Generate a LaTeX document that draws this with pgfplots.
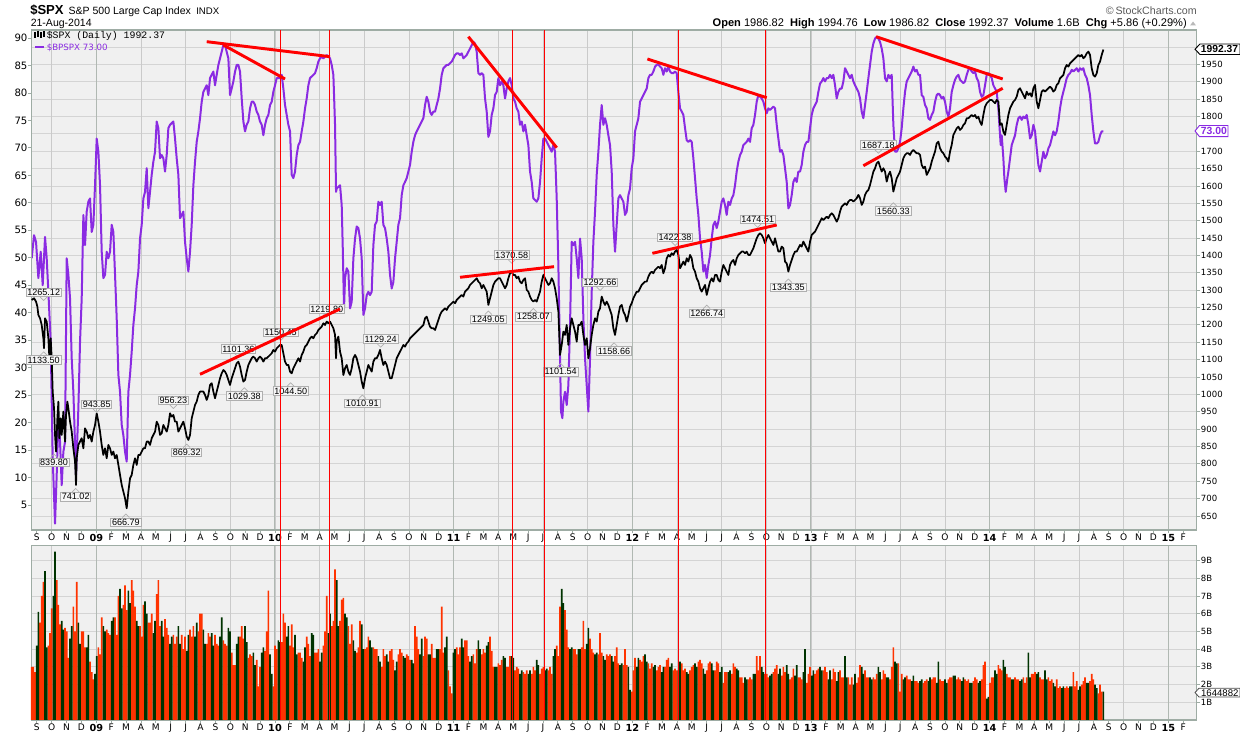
\documentclass[border=0pt]{standalone}
\usepackage{fontspec}
\setmainfont{DejaVu Sans}
\newfontfamily\arialf{Liberation Sans}
\newfontfamily\monof{Liberation Mono}
\usepackage{pgfplots}
\usepackage{pgfplotstable}
\pgfplotsset{compat=1.18}

\definecolor{bgc}{RGB}{240,240,240}
\definecolor{framec}{RGB}{158,172,164}
\definecolor{hgridc}{RGB}{212,212,212}
\definecolor{qgridc}{RGB}{202,202,202}
\definecolor{ygridc}{RGB}{176,184,178}
\definecolor{bpc}{RGB}{138,43,226}
\definecolor{volred}{RGB}{255,51,0}
\definecolor{volgreen}{RGB}{0,51,0}
\definecolor{lblborder}{RGB}{175,175,175}
\definecolor{lblfill}{RGB}{246,246,246}

\newcommand{\yr}[1]{{\fontsize{7.3}{8}\selectfont\bfseries #1}}

% ---------------- BPSPX (bullish percent), x = time index k ----------------
\pgfplotstableread{
k v
0 49.9
1.4 54.1
2.6 52.9
4 46.3
5.4 51.1
6.6 45.0
8 53.8
9 49.9
10 43.8
11.4 34.7
12.6 13.5
14 1.6
15 10.5
16 20.8
17 16.5
18 8.6
19 14.7
20 16.5
21 49.9
22 46.9
23 42.6
24 31.7
25 25.6
26.6 10.5
28 22.6
29 34.7
30 42.6
31 57.8
32 52.3
33 58.4
34 60.2
35 60.8
36 54.7
37 56.0
38 63.2
39 71.7
40 69.3
41 63.2
42 51.1
43 46.3
44 46.9
45 51.1
46 49.9
47 51.1
48 56.0
49 54.7
50 46.9
51 39.0
52 28.7
53 25.6
54 19.6
55 17.7
56 14.7
57 12.9
58 25.6
59 28.7
60 32.9
61 37.8
62 40.8
63 45.0
64 47.5
65 53.5
66 56.0
67 60.8
68 62.0
69 66.3
70 59.0
71 62.0
72 65.1
73 67.5
74 69.3
75 74.8
76 73.6
77 68.1
78 68.7
79 68.1
80 65.7
81 68.7
82 73.6
83 74.2
85 74.8
86 71.7
87 68.1
88 65.1
89 57.2
90 57.8
91 58.4
92 52.9
93 49.9
94 47.5
95 51.1
96 56.0
97 63.2
98 67.5
99 71.1
100 73.0
101 75.4
102 78.4
103 80.2
104 80.8
105 81.4
106 79.6
107 82.7
108 83.3
109 83.9
110 81.4
111 83.3
112 85.1
113 86.3
114 87.5
115 88.7
116 88.7
117 87.5
118 86.3
119 79.6
120 80.8
121 82.1
122 83.9
123 85.1
124 85.1
125 83.9
126 79.0
127 74.8
128 73.0
129 74.2
130 74.8
131 77.2
132 78.4
133 78.4
134 77.8
135 76.6
136 76.0
137 74.8
138 74.2
139 72.3
140 74.2
141 75.4
142 76.0
143 77.8
144 78.4
145 80.2
146 81.4
147 82.7
148 82.7
149 82.7
150 83.3
151 80.8
152 77.8
153 76.0
154 74.2
155 73.0
156 65.1
157 64.5
158 65.7
159 68.7
160 70.5
161 71.1
162 73.0
163 74.8
164 77.2
165 79.0
166 81.4
167 82.7
168 83.0
169 83.3
170 83.6
171 84.5
172 85.7
173 86.3
174 86.6
175 86.3
176 86.6
177 86.9
178 86.6
179 86.3
180 85.1
181 83.3
182 74.2
182.6 62.0
183 62.6
185 63.2
186 59.6
186.6 52.3
187.4 40.8
188 46.3
189 48.1
190 47.5
191 40.8
192 42.0
193 49.9
194 53.5
195 55.7
196 55.4
197 53.5
198 49.9
199 39.6
200 40.8
201 43.2
202 43.8
203 43.2
204 43.8
205 52.3
206 56.0
207 56.6
208 60.2
209 59.6
210 60.2
211 56.0
212 55.4
213 53.5
214 51.1
215 46.9
216 44.4
217 45.6
218 49.9
219 52.9
220 56.0
221 57.2
222 61.4
223 63.2
224 63.8
225 64.5
226 65.7
227 66.9
228 69.3
229 71.1
230 72.3
231 73.0
232 73.6
233 74.2
234 74.8
235 75.4
236 77.8
237 79.3
238 78.4
239 76.6
240 76.0
241 76.6
242 76.6
243 77.8
244 79.0
245 80.8
246 83.3
247 84.5
248 84.8
249 85.1
250 85.1
251 85.4
252 85.7
253 86.3
254 86.9
255 87.2
256 87.2
257 86.9
258 87.2
259 86.3
260 86.6
261 86.9
262 87.5
263 88.1
264 88.7
265 89.3
266 89.0
267 87.5
268 83.6
269 83.3
270 83.6
271 83.3
272 79.0
273 76.6
274 72.0
275 73.0
276 76.0
277 77.2
278 79.6
279 80.2
280 82.7
281 81.4
282 82.1
283 81.4
284 79.0
285 80.8
286 82.1
287 82.7
288 81.4
289 79.0
290 78.4
291 77.2
292 76.6
293 74.2
294 74.8
295 73.0
296 74.2
297 72.3
298 70.5
299 65.7
300 63.8
301 60.8
302 60.5
303 60.2
304 60.8
305 63.8
306 68.1
307 71.7
308 71.7
309 71.1
310 70.5
311 69.9
312 69.3
313 70.5
314 69.3
315 60.8
316 48.7
317 31.7
317.6 22.0
318.4 20.8
319 23.8
320 25.6
321 23.2
322 26.8
323 37.8
324 52.9
325 52.3
326 52.9
327 49.9
328 46.3
329 53.5
330 49.9
331 39.0
332 31.7
333 26.8
334 22.0
335 31.7
336 43.8
337 52.9
338 58.4
339 65.1
340 69.3
341 74.2
342 77.8
343 74.2
344 75.4
345 74.2
346 72.3
347 70.5
348 65.7
349 56.0
350 51.1
351 56.0
352 60.8
353 61.4
354 60.8
355 60.2
356 57.8
357 58.4
358 61.4
359 62.6
360 66.3
361 68.1
362 73.0
363 74.2
364 75.4
365 78.4
366 79.0
367 79.6
368 80.2
369 80.8
370 82.7
371 83.3
372 83.3
373 83.9
374 84.8
375 85.1
376 85.2
377 84.8
378 84.5
379 83.3
380 84.5
381 83.9
382 84.8
383 83.9
384 83.6
385 83.6
386 83.9
387 83.6
388 80.2
389 77.2
390 76.6
391 76.0
392 73.6
393 71.4
394 71.1
395 71.4
396 71.1
397 68.1
398 64.5
399 60.8
400 57.8
401 53.5
402 51.1
403 47.5
404 48.7
405 46.3
406 48.7
407 50.5
408 53.5
409 56.0
410 56.6
411 55.4
412 56.6
413 58.4
414 60.2
415 60.8
416 59.6
417 57.8
418 60.2
419 59.6
420 60.8
421 61.4
422 63.2
423 65.7
424 67.5
425 68.7
426 69.3
427 70.5
428 70.8
429 71.1
430 71.7
431 71.1
432 73.6
433 74.2
434 76.0
435 78.4
436 79.6
437 79.3
438 79.0
439 78.4
440 77.2
441 76.3
442 77.2
443 76.9
444 77.2
445 77.5
446 77.2
447 74.2
448 71.7
449 69.3
450 69.6
451 68.7
452 66.3
453 63.8
454 59.0
455 59.6
456 61.4
457 63.8
458 64.5
459 63.8
460 65.7
461 65.7
462 66.9
463 69.3
464 70.5
465 71.1
466 71.1
467 73.6
468 76.0
469 77.2
470 77.8
471 78.4
472 80.2
473 81.7
474 82.1
475 82.7
476 82.1
477 82.7
478 82.7
479 83.3
480 82.7
481 83.3
482 81.4
483 79.0
484 80.2
485 80.8
486 80.8
487 82.1
488 84.5
489 83.9
490 83.3
491 82.7
492 83.3
493 82.1
494 81.4
495 80.8
496 80.2
497 79.0
498 76.6
499 75.4
500 77.8
501 80.2
502 82.7
503 85.1
504 87.5
505 89.0
506 89.9
507 90.2
508 89.9
509 89.3
510 88.1
511 86.3
512 82.7
513 82.1
514 83.3
515 82.7
516 83.3
517 74.2
518 69.3
519 69.3
520 69.9
521 71.1
522 73.6
523 77.2
524 80.2
525 82.1
526 82.7
527 83.3
528 83.9
529 84.8
530 83.9
531 84.2
532 83.3
533 83.3
534 79.6
535 79.3
536 77.8
537 77.2
538 75.4
539 75.1
540 76.0
541 76.6
542 78.4
543 79.6
544 79.9
545 79.6
546 79.0
547 79.3
548 78.4
549 76.6
550 75.7
551 77.2
552 80.2
553 81.4
554 82.4
555 83.0
556 83.3
557 82.4
558 82.1
559 81.8
560 82.1
561 83.3
562 84.2
563 84.5
564 83.9
565 83.6
566 83.9
567 82.7
568 82.1
569 80.2
570 79.3
571 79.6
572 81.4
573 83.3
574 83.6
575 83.3
576 82.7
577 81.4
578 80.8
579 80.2
580 77.2
580.6 74.2
581.4 70.5
582 72.3
583 68.1
583.6 64.5
584.4 62.0
585.4 64.5
586 65.7
587 68.1
588 70.5
589 71.4
590 72.3
591 74.2
592 75.4
593 75.7
594 75.1
595 75.7
596 75.4
597 76.0
598 74.2
599 71.7
600 72.3
601 74.2
602 73.0
603 69.9
604 66.9
605 65.7
606 67.5
607 69.3
608 68.1
609 68.7
610 69.9
611 70.5
612 71.7
613 73.0
614 72.3
615 73.0
616 74.8
617 77.2
618 79.0
619 80.2
620 81.4
621 82.7
622 83.3
623 83.6
624 84.2
625 83.9
626 84.2
627 84.5
628 83.9
629 84.5
630 84.2
631 84.5
632 83.3
633 82.7
634 81.4
635 79.6
636 76.0
637 73.0
638 70.8
639 70.8
640 71.1
641 72.3
642 73.0
643 73.0
}\bpdata

% ---------------- $SPX close ----------------
\pgfplotstableread{
k v
0 1271.8
1.4 1276.6
2.6 1267.0
3.4 1252.6
4 1228.6
5 1219.0
6 1199.8
7 1161.5
7.4 1132.6
8 1219.0
9 1209.4
10 1161.5
10.6 1104.0
11.4 1161.5
12 1104.0
12.6 1008.0
13.4 960.0
14 883.3
14.6 835.3
15.4 931.2
16 979.2
16.6 873.7
17.4 931.2
18 883.3
19 950.4
20 864.1
20.6 940.8
21.4 979.2
22 960.0
23 921.6
24 892.8
25 844.9
26 806.5
26.6 739.4
27 816.1
28 854.5
29 864.1
30 873.7
31 844.9
32 902.4
33 892.8
34 873.7
35 883.3
36 864.1
37 892.8
38 912.0
39 945.6
40 921.6
41 892.8
42 854.5
43 825.7
44 844.9
45 816.1
46 854.5
47 844.9
48 825.7
49 835.3
50 816.1
51 825.7
52 797.0
53 768.1
54 739.4
55 720.2
56 701.0
57 672.2
58 720.2
59 758.6
60 768.1
61 797.0
62 816.1
63 797.0
64 825.7
65 825.7
66 835.3
67 844.9
68 844.9
69 864.1
70 864.1
71 854.5
72 873.7
73 883.3
74 892.8
75 921.6
76 912.0
77 883.3
78 888.1
79 912.0
80 902.4
81 892.8
82 912.0
83 945.6
84 936.0
85 940.8
86 921.6
87 921.6
88 892.8
89 902.4
90 912.0
91 921.6
92 902.4
93 878.5
94 868.9
95 883.3
96 931.2
97 950.4
98 969.6
99 979.2
100 998.4
101 1008.0
102 1008.0
103 1008.0
104 998.4
105 984.0
106 998.4
107 1027.1
108 1032.1
109 1008.0
110 988.8
111 1008.0
112 1027.1
113 1046.4
114 1060.7
115 1070.3
116 1065.5
117 1055.9
118 1041.6
119 1027.1
120 1046.4
121 1060.7
122 1075.1
123 1089.5
124 1094.3
125 1079.9
126 1055.9
127 1036.8
128 1041.6
129 1065.5
130 1084.7
131 1094.3
132 1104.0
133 1108.7
134 1104.0
135 1094.3
136 1104.0
137 1108.7
138 1104.0
139 1094.3
140 1104.0
141 1104.0
142 1108.7
143 1113.5
144 1118.3
145 1127.9
146 1123.1
147 1132.6
148 1137.4
149 1142.2
150 1142.2
151 1118.3
152 1094.3
153 1084.7
154 1084.7
155 1065.5
156 1060.7
157 1075.1
158 1084.7
159 1094.3
160 1104.0
161 1094.3
162 1113.5
163 1123.1
164 1137.4
165 1142.2
166 1151.8
167 1161.5
168 1166.3
169 1161.5
170 1171.0
171 1175.8
172 1185.4
173 1190.2
174 1195.0
175 1204.6
176 1199.8
177 1209.4
178 1204.6
179 1209.4
180 1199.8
181 1190.2
182 1171.0
182.6 1104.0
183 1151.8
184 1166.3
185 1123.1
186 1104.0
187 1055.9
188 1075.1
189 1084.7
190 1065.5
191 1055.9
192 1075.1
193 1104.0
194 1113.5
195 1104.0
196 1084.7
197 1065.5
198 1036.8
199 1017.6
200 1046.4
201 1065.5
202 1084.7
203 1075.1
204 1065.5
205 1094.3
206 1104.0
207 1104.0
208 1113.5
209 1127.9
210 1104.0
211 1084.7
212 1094.3
213 1084.7
214 1065.5
215 1046.4
216 1046.4
217 1065.5
218 1084.7
219 1104.0
220 1113.5
221 1123.1
222 1132.6
223 1142.2
224 1137.4
225 1147.0
226 1151.8
227 1161.5
228 1166.3
229 1171.0
230 1175.8
231 1180.6
232 1185.4
233 1190.2
234 1195.0
235 1199.8
236 1219.0
237 1223.8
238 1209.4
239 1195.0
240 1190.2
241 1190.2
242 1185.4
243 1199.8
244 1214.2
245 1228.6
246 1238.2
247 1243.0
248 1247.8
249 1243.0
250 1252.6
251 1257.4
252 1262.2
253 1267.0
254 1262.2
255 1271.8
256 1276.6
257 1281.4
258 1286.2
259 1281.4
260 1295.7
261 1300.5
262 1305.3
263 1314.9
264 1319.7
265 1324.5
266 1329.3
267 1334.1
268 1324.5
269 1319.7
270 1305.3
271 1314.9
272 1305.3
273 1295.7
274 1257.4
275 1276.6
276 1295.7
277 1314.9
278 1324.5
279 1329.3
280 1334.1
281 1334.1
282 1324.5
283 1314.9
284 1305.3
285 1314.9
286 1334.1
287 1348.5
288 1353.3
289 1343.7
290 1343.7
291 1334.1
292 1338.9
293 1324.5
294 1319.7
295 1329.3
296 1334.1
297 1300.5
298 1295.7
299 1281.4
300 1271.8
301 1267.0
302 1271.8
303 1267.0
304 1281.4
305 1295.7
306 1324.5
307 1343.7
308 1334.1
309 1324.5
310 1314.9
311 1319.7
312 1334.1
313 1324.5
314 1305.3
315 1276.6
316 1238.2
317 1113.5
318 1142.2
319 1180.6
320 1171.0
321 1199.8
322 1142.2
323 1190.2
324 1219.0
325 1199.8
326 1180.6
327 1151.8
328 1199.8
329 1199.8
330 1209.4
331 1171.0
332 1142.2
333 1161.5
334 1104.0
335 1132.6
336 1171.0
337 1199.8
338 1219.0
339 1209.4
340 1238.2
341 1247.8
342 1281.4
343 1267.0
344 1257.4
345 1267.0
346 1257.4
347 1243.0
348 1228.6
349 1190.2
350 1171.0
351 1199.8
352 1228.6
353 1252.6
354 1257.4
355 1238.2
356 1228.6
357 1209.4
358 1228.6
359 1252.6
360 1262.2
361 1276.6
362 1286.2
363 1295.7
364 1295.7
365 1305.3
366 1314.9
367 1319.7
368 1324.5
369 1324.5
370 1338.9
371 1348.5
372 1353.3
373 1348.5
374 1358.1
375 1362.9
376 1367.7
377 1362.9
378 1372.5
379 1348.5
380 1362.9
381 1391.7
382 1401.3
383 1396.5
384 1406.1
385 1401.3
386 1410.9
387 1415.7
388 1401.3
389 1362.9
390 1372.5
391 1382.1
392 1372.5
393 1391.7
394 1382.1
395 1401.3
396 1391.7
397 1362.9
398 1353.3
399 1334.1
400 1324.5
401 1305.3
402 1295.7
403 1305.3
404 1314.9
405 1286.2
406 1305.3
407 1324.5
408 1334.1
409 1324.5
410 1343.7
411 1343.7
412 1329.3
413 1324.5
414 1353.3
415 1372.5
416 1362.9
417 1353.3
418 1343.7
419 1372.5
420 1382.1
421 1386.9
422 1372.5
423 1391.7
424 1401.3
425 1406.1
426 1410.9
427 1410.9
428 1406.1
429 1410.9
430 1401.3
431 1401.3
432 1410.9
433 1420.5
434 1434.9
435 1449.2
436 1458.8
437 1463.6
438 1458.8
439 1449.2
440 1434.9
441 1449.2
442 1458.8
443 1449.2
444 1439.7
445 1430.1
446 1449.2
447 1430.1
448 1410.9
449 1410.9
450 1425.3
451 1420.5
452 1382.1
453 1377.3
454 1353.3
455 1372.5
456 1386.9
457 1401.3
458 1410.9
459 1410.9
460 1420.5
461 1430.1
462 1425.3
463 1439.7
464 1430.1
465 1420.5
466 1410.9
467 1439.7
468 1458.8
469 1463.6
470 1468.4
471 1478.0
472 1487.5
473 1497.1
474 1506.8
475 1502.0
476 1506.8
477 1511.6
478 1506.8
479 1516.2
480 1521.2
481 1516.2
482 1506.8
483 1497.1
484 1506.8
485 1526.0
486 1540.4
487 1545.2
488 1550.0
489 1545.2
490 1554.8
491 1559.6
492 1559.6
493 1554.8
494 1559.6
495 1564.4
496 1574.0
497 1564.4
498 1545.2
499 1554.8
500 1574.0
501 1583.6
502 1588.4
503 1602.8
504 1621.9
505 1641.1
506 1650.7
507 1665.1
508 1669.9
509 1655.5
510 1641.1
511 1650.7
512 1641.1
513 1612.3
514 1631.5
515 1641.1
516 1621.9
517 1583.6
518 1602.8
519 1621.9
520 1631.5
521 1641.1
522 1660.3
523 1679.5
524 1689.1
525 1693.9
526 1693.9
527 1689.1
528 1698.7
529 1703.5
530 1698.7
531 1693.9
532 1693.9
533 1689.1
534 1660.3
535 1650.7
536 1655.5
537 1631.5
538 1641.1
539 1650.7
540 1669.9
541 1684.3
542 1698.7
543 1722.6
544 1727.4
545 1708.3
546 1698.7
547 1693.9
548 1684.3
549 1679.5
550 1669.9
551 1698.7
552 1717.8
553 1746.6
554 1756.2
555 1765.8
556 1770.6
557 1761.0
558 1765.8
559 1775.4
560 1780.2
561 1794.6
562 1794.6
563 1799.4
564 1804.2
565 1799.4
566 1804.2
567 1794.6
568 1799.4
569 1784.2
570 1775.4
571 1804.2
572 1828.2
573 1837.8
574 1842.6
575 1847.4
576 1847.4
577 1842.6
578 1837.8
579 1847.4
580 1842.6
581 1775.4
582 1780.2
583 1756.2
584 1746.6
585 1775.4
586 1804.2
587 1823.4
588 1833.0
589 1842.6
590 1847.4
591 1857.0
592 1876.1
593 1880.9
594 1871.3
595 1861.7
596 1852.1
597 1871.3
598 1861.7
599 1866.5
600 1857.0
601 1880.9
602 1890.5
603 1842.6
604 1823.4
605 1847.4
606 1871.3
607 1876.1
608 1871.3
609 1876.1
610 1880.9
611 1885.7
612 1880.9
613 1871.3
614 1876.1
615 1890.5
616 1895.3
617 1909.7
618 1914.5
619 1919.3
620 1938.5
621 1948.1
622 1943.3
623 1952.9
624 1957.7
625 1962.5
626 1967.3
627 1972.1
628 1976.9
629 1972.1
630 1976.9
631 1967.3
632 1972.1
633 1981.7
634 1986.5
635 1976.9
636 1938.5
637 1919.3
638 1914.5
639 1924.1
640 1948.1
641 1957.7
642 1976.9
643 1992.4
}\spxdata

% ---------------- volume (billions) ----------------
\pgfplotstableread{
k v
0 3.0
1 3.0
2 2.7
3 4.2
4 6.1
5 5.5
6 7.0
7 7.8
8 8.4
9 4.1
10 4.2
11 4.9
12 6.3
13 7.0
14 9.5
15 7.9
16 6.5
17 5.4
18 5.6
19 5.1
20 5.2
21 5.0
22 3.5
23 4.6
24 5.3
25 6.4
26 5.0
27 7.8
28 5.5
29 4.3
30 5.0
31 5.0
32 4.1
33 4.1
34 4.8
35 3.3
36 2.7
37 2.3
38 2.6
39 3.6
40 4.1
41 3.7
42 5.8
43 5.3
44 5.0
45 5.1
46 4.9
47 4.8
48 5.6
49 5.8
50 5.8
51 4.8
52 7.0
53 7.4
54 6.3
55 6.5
56 7.6
57 6.2
58 7.3
59 6.6
60 7.9
61 7.3
62 6.4
63 5.6
64 5.3
65 5.3
66 4.7
67 6.5
68 6.7
69 6.0
70 5.5
71 5.5
72 6.0
73 4.9
74 5.6
75 7.1
76 7.9
77 5.3
78 5.6
79 4.7
80 5.7
81 5.2
82 4.8
83 4.3
84 4.7
85 4.8
86 4.3
87 4.7
88 5.3
89 4.3
90 4.8
91 4.0
92 4.7
93 3.9
94 4.8
95 5.1
96 4.7
97 5.3
98 4.7
99 5.5
100 5.0
101 6.0
102 6.0
103 5.1
104 4.3
105 4.3
106 4.9
107 4.7
108 4.9
109 4.2
110 4.8
111 4.3
112 4.2
113 4.7
114 5.8
115 4.5
116 4.3
117 4.2
118 5.2
119 5.0
120 3.8
121 3.1
122 3.1
123 4.3
124 4.7
125 4.7
126 5.3
127 4.6
128 5.3
129 4.4
130 3.5
131 3.7
132 3.6
133 3.8
134 3.1
135 3.4
136 1.9
137 3.0
138 3.8
139 4.1
140 3.9
141 5.0
142 7.3
143 3.7
144 2.6
145 1.9
146 4.2
147 4.0
148 4.5
149 4.4
150 4.4
151 6.0
152 5.5
153 4.7
154 5.3
155 4.2
156 5.4
157 4.1
158 4.8
159 3.7
160 3.8
161 3.8
162 3.5
163 3.3
164 4.1
165 4.7
166 4.3
167 3.6
168 4.9
169 4.8
170 3.8
171 3.8
172 4.0
173 3.3
174 3.8
175 4.2
176 5.0
177 7.0
178 4.9
179 6.0
180 5.3
181 5.6
182 8.5
183 7.9
184 5.3
185 5.6
186 6.8
187 6.9
188 6.0
189 5.8
190 5.3
191 4.3
192 5.4
193 4.5
194 3.9
195 3.8
196 4.1
197 5.6
198 5.4
199 4.0
200 4.0
201 4.1
202 4.7
203 4.5
204 4.1
205 4.1
206 4.0
207 4.0
208 3.6
209 3.3
210 3.0
211 4.0
212 3.6
213 3.7
214 3.3
215 3.9
216 4.0
217 3.4
218 2.8
219 3.3
220 3.7
221 4.0
222 3.8
223 3.6
224 3.5
225 3.7
226 3.6
227 3.4
228 3.4
229 3.2
230 5.3
231 4.7
232 4.0
233 3.7
234 4.6
235 3.6
236 4.7
237 4.6
238 3.7
239 3.7
240 4.3
241 3.5
242 3.5
243 4.0
244 4.0
245 4.0
246 6.4
247 3.8
248 4.1
249 4.7
250 2.8
251 1.9
252 1.5
253 3.8
254 4.0
255 4.1
256 3.7
257 4.1
258 4.6
259 4.1
260 4.5
261 4.5
262 3.6
263 3.3
264 3.6
265 3.7
266 3.2
267 4.0
268 4.5
269 4.0
270 3.7
271 4.0
272 3.8
273 4.2
274 4.4
275 4.7
276 3.9
277 3.0
278 3.0
279 3.0
280 3.2
281 3.1
282 3.4
283 3.6
284 3.5
285 3.0
286 3.0
287 3.6
288 3.6
289 3.5
290 2.8
291 3.0
292 2.9
293 2.6
294 2.8
295 2.7
296 2.6
297 2.8
298 2.6
299 2.8
300 2.6
301 3.0
302 2.8
303 3.4
304 3.1
305 2.6
306 2.9
307 3.0
308 2.8
309 2.9
310 2.8
311 3.0
312 2.6
313 3.6
314 4.0
315 4.2
316 3.6
317 6.4
318 7.4
319 6.6
320 6.2
321 5.1
322 4.1
323 4.0
324 4.1
325 4.0
326 4.0
327 3.7
328 4.0
329 4.0
330 4.1
331 5.6
332 4.0
333 4.3
334 5.2
335 4.6
336 4.0
337 3.8
338 3.7
339 3.8
340 3.7
341 4.9
342 3.8
343 3.6
344 3.4
345 3.7
346 3.6
347 3.7
348 3.6
349 3.3
350 3.6
351 4.1
352 3.2
353 3.1
354 3.2
355 3.1
356 4.0
357 3.1
358 3.0
359 1.7
360 1.6
361 2.8
362 3.5
363 3.0
364 3.5
365 3.4
366 3.3
367 3.6
368 3.7
369 3.3
370 3.2
371 2.9
372 3.2
373 3.0
374 3.1
375 2.8
376 3.0
377 3.1
378 2.7
379 3.0
380 3.0
381 3.4
382 3.5
383 3.0
384 3.2
385 2.8
386 2.9
387 2.8
388 2.8
389 3.3
390 3.2
391 2.8
392 2.9
393 2.7
394 2.6
395 2.8
396 3.0
397 3.1
398 3.2
399 3.0
400 3.3
401 3.4
402 3.2
403 2.9
404 2.6
405 2.8
406 3.2
407 3.3
408 3.2
409 2.8
410 2.8
411 3.3
412 3.2
413 2.7
414 3.0
415 2.1
416 2.7
417 2.7
418 2.7
419 2.8
420 2.6
421 3.2
422 3.0
423 2.9
424 2.8
425 2.4
426 2.4
427 2.1
428 2.4
429 2.3
430 2.3
431 2.4
432 2.3
433 2.6
434 2.6
435 3.6
436 2.8
437 3.6
438 3.0
439 2.7
440 2.6
441 2.6
442 2.4
443 2.5
444 2.6
445 2.7
446 2.9
447 3.1
448 2.6
449 2.9
450 2.5
451 3.0
452 2.7
453 3.1
454 2.6
455 2.3
456 2.4
457 2.9
458 2.5
459 3.1
460 2.4
461 2.4
462 2.3
463 2.7
464 4.0
465 2.1
466 2.6
467 3.0
468 2.5
469 2.8
470 2.6
471 2.8
472 2.9
473 3.0
474 2.8
475 2.8
476 3.0
477 2.7
478 2.3
479 2.8
480 2.3
481 2.9
482 2.7
483 2.2
484 2.7
485 2.8
486 2.4
487 2.4
488 3.6
489 2.4
490 2.4
491 2.0
492 2.4
493 2.0
494 2.6
495 2.1
496 2.4
497 3.1
498 3.0
499 2.6
500 2.8
501 2.4
502 2.4
503 2.4
504 2.3
505 2.4
506 2.3
507 2.6
508 3.0
509 2.7
510 2.3
511 2.8
512 2.6
513 2.4
514 2.4
515 2.3
516 3.0
517 4.1
518 3.3
519 3.2
520 3.2
521 1.6
522 2.6
523 2.3
524 2.4
525 2.5
526 2.3
527 2.3
528 2.2
529 2.5
530 2.2
531 2.2
532 2.1
533 2.2
534 2.3
535 2.1
536 2.2
537 2.3
538 2.2
539 2.4
540 2.3
541 2.4
542 2.4
543 2.1
544 3.3
545 2.3
546 2.2
547 2.2
548 2.3
549 2.1
550 2.3
551 2.4
552 2.4
553 2.5
554 2.5
555 2.3
556 2.4
557 2.3
558 2.2
559 2.4
560 2.3
561 2.2
562 2.3
563 2.1
564 2.1
565 2.2
566 2.4
567 2.3
568 2.1
569 2.2
570 2.3
571 3.1
572 3.3
573 1.2
574 1.3
575 2.1
576 2.4
577 2.4
578 2.8
579 2.6
580 3.1
581 2.9
582 2.8
583 3.4
584 3.0
585 2.6
586 2.4
587 2.4
588 2.3
589 2.3
590 2.4
591 2.3
592 2.3
593 2.2
594 2.3
595 2.4
596 2.1
597 2.4
598 3.8
599 2.4
600 2.6
601 2.6
602 2.7
603 2.6
604 2.7
605 2.4
606 2.3
607 2.3
608 2.8
609 2.3
610 2.4
611 2.2
612 2.3
613 2.1
614 1.9
615 2.3
616 1.8
617 1.9
618 1.8
619 1.9
620 1.8
621 1.9
622 1.8
623 1.9
624 1.9
625 2.7
626 1.9
627 2.2
628 1.7
629 1.9
630 2.0
631 2.2
632 2.4
633 2.1
634 2.1
635 2.2
636 2.6
637 2.3
638 2.0
639 1.8
640 1.5
641 2.0
642 1.6
643 1.6
}\voldata

\pgfplotsset{
  base/.style={scale only axis, width=873.75pt, anchor=south west,
    axis line style={draw=framec, line width=0.8pt},
    xtick=\empty, ytick=\empty,
    every tick/.style={framec, line width=0.6pt},
    major tick length=2.4pt, tick align=outside,
    tick label style={font=\fontsize{6.4}{7}\selectfont, inner sep=0.6pt},
    /pgf/number format/assume math mode=true,
    /pgf/number format/1000 sep={}},
  upper/.style={base, at={(23.775pt,-397.5pt)}, height=375pt},
  lower/.style={base, at={(23.775pt,-540pt)}, height=130.725pt},
  kx/.style={xmin=0, xmax=699},
  mx/.style={xmin=-4.341, xmax=73.906, xtick={-4,...,73}, xtick pos=left,
    xticklabel style={font=\fontsize{6.8}{7}\selectfont, anchor=north},
    xticklabels={S,O,N,D,\yr{09},F,M,A,M,J,J,A,S,O,N,D,\yr{10},F,M,A,M,J,J,A,S,O,N,D,\yr{11},F,M,A,M,J,J,A,S,O,N,D,\yr{12},F,M,A,M,J,J,A,S,O,N,D,\yr{13},F,M,A,M,J,J,A,S,O,N,D,\yr{14},F,M,A,M,J,J,A,S,O,N,D,\yr{15},F}},
}
\tikzset{
  lbl/.style={draw=lblborder, fill=lblfill, line width=0.5pt, inner sep=0.9pt, text=black, font=\arialf\fontsize{6.8}{7}\selectfont},
  ptr/.style={draw=lblborder, line width=0.5pt},
}
\newcommand{\highlbl}[3]{\node[lbl] (n) at (axis cs:#1,#2) {#3}; \draw[ptr] (n.south) ++(-2.6pt,0pt) -- ++(2.6pt,-2.6pt) -- ++(2.6pt,2.6pt);}
\newcommand{\lowlbl}[3]{\node[lbl] (n) at (axis cs:#1,#2) {#3}; \draw[ptr] (n.north) ++(-2.6pt,0pt) -- ++(2.6pt,2.6pt) -- ++(2.6pt,-2.6pt);}

\begin{document}
\begin{tikzpicture}
\path[use as bounding box] (0pt,0pt) rectangle (930pt,-552.75pt);

% ---------- upper panel: frame, background, grid ----------
\begin{axis}[upper, mx, ymin=609.7, ymax=2048.7, axis background/.style={fill=bgc}]
\pgfplotsinvokeforeach{650,700,...,2000}{\draw[hgridc, line width=0.6pt] (axis cs:-4.341,#1) -- (axis cs:73.906,#1);}
\pgfplotsinvokeforeach{-3,0,...,72}{\draw[qgridc, line width=0.6pt] (axis cs:#1,609.7) -- (axis cs:#1,2048.7);}
\pgfplotsinvokeforeach{0,12,...,72}{\draw[ygridc, line width=0.75pt] (axis cs:#1,609.7) -- (axis cs:#1,2048.7);}
\end{axis}

% ---------- BPSPX (left scale) ----------
\begin{axis}[upper, kx, ymin=0.45, ymax=91.46, ytick={5,10,...,90}, ytick pos=left, yticklabel pos=left,
  yticklabel style={font=\fontsize{7.6}{8}\selectfont}]
\addplot[bpc, line width=1.5pt, line join=round] table[x=k,y=v]{\bpdata};
\end{axis}

% ---------- $SPX (right scale) ----------
\begin{axis}[upper, kx, ymin=609.7, ymax=2048.7, ytick={650,700,...,2000}, ytick pos=right, yticklabel pos=right, clip=false,
  yticklabels={650,700,750,800,850,900,950,1000,1050,1100,1150,1200,1250,1300,1350,1400,1450,1500,1550,1600,1650,1700,{},1800,1850,1900,1950,{}}]
\addplot[black, line width=1.3pt, line join=round] table[x=k,y=v]{\spxdata};
\highlbl{7.2}{1293.8}{1265.12}
\lowlbl{7.2}{1099}{1133.50}
\lowlbl{13.4}{804.6}{839.80}
\lowlbl{26.4}{705.6}{741.02}
\lowlbl{56.5}{631.9}{666.79}
\highlbl{39.0}{971.5}{943.85}
\highlbl{85.0}{983}{956.23}
\lowlbl{93.0}{833.3}{869.32}
\highlbl{124.0}{1130.6}{1101.36}
\lowlbl{127.6}{995.4}{1029.38}
\highlbl{149.4}{1178.7}{1150.45}
\lowlbl{155.4}{1009.8}{1044.50}
\highlbl{177.0}{1245.7}{1219.80}
\lowlbl{198.4}{974.4}{1010.91}
\highlbl{209.4}{1159.4}{1129.24}
\highlbl{288.0}{1401.2}{1370.58}
\lowlbl{274.0}{1216.1}{1249.05}
\lowlbl{301.0}{1223.6}{1258.07}
\lowlbl{317.4}{1065.3}{1101.54}
\highlbl{341.0}{1322.6}{1292.66}
\lowlbl{349.4}{1124.9}{1158.66}
\highlbl{386.0}{1452.1}{1422.38}
\lowlbl{405.0}{1233.4}{1266.74}
\highlbl{435.6}{1503.9}{1474.51}
\lowlbl{454.0}{1308.2}{1343.35}
\highlbl{508.0}{1717.7}{1687.18}
\lowlbl{517.0}{1527.8}{1560.33}
\addplot[red, line width=2.2pt] coordinates {(101,1057.8) (185,1245.8)};
\addplot[red, line width=2.2pt] coordinates {(257,1337) (313.4,1367.5)};
\addplot[red, line width=2.2pt] coordinates {(372.4,1406) (447,1487.5)};
\addplot[red, line width=2.2pt] coordinates {(499,1658) (582.6,1881)};
\end{axis}

% ---------- BPSPX trend lines ----------
\begin{axis}[upper, kx, ymin=0.45, ymax=91.46, hide axis]
\addplot[red, line width=2.2pt] coordinates {(105,89.33) (179,86.6)};
\addplot[red, line width=2.2pt] coordinates {(115,88.73) (152,82.54)};
\addplot[red, line width=2.2pt] coordinates {(262,90.24) (315,70.03)};
\addplot[red, line width=2.2pt] coordinates {(369.4,86.18) (441,79.13)};
\addplot[red, line width=2.2pt] coordinates {(506.6,90.24) (582.6,82.54)};
\end{axis}

% ---------- lower panel: frame, background, grid ----------
\begin{axis}[lower, mx, ymin=0, ymax=9.84, axis background/.style={fill=bgc}]
\pgfplotsinvokeforeach{1,...,9}{\draw[hgridc, line width=0.6pt] (axis cs:-4.341,#1) -- (axis cs:73.906,#1);}
\pgfplotsinvokeforeach{-3,0,...,72}{\draw[qgridc, line width=0.6pt] (axis cs:#1,0) -- (axis cs:#1,9.84);}
\pgfplotsinvokeforeach{0,12,...,72}{\draw[ygridc, line width=0.75pt] (axis cs:#1,0) -- (axis cs:#1,9.84);}
\end{axis}

% ---------- volume ----------
\begin{axis}[lower, kx, ymin=0, ymax=9.84, ytick={1,...,9},
  yticklabels={1B,2B,3B,4B,5B,6B,7B,8B,9B}, ytick pos=right, yticklabel pos=right, clip=false]
\addplot[ybar, bar width=1, bar shift=0pt, draw=none, fill=volred,
  restrict expr to domain={mod(\coordindex,5)}{-0.5:2.5}] table[x=k,y=v]{\voldata};
\addplot[ybar, bar width=1, bar shift=0pt, draw=none, fill=volgreen,
  restrict expr to domain={mod(\coordindex,5)}{2.5:4.5}] table[x=k,y=v]{\voldata};
\pgfplotsinvokeforeach{149.0,178.6,288.4,307.6,388.0,440.2}{\draw[red, line width=0.8pt] (axis cs:#1,0) -- ++(0pt,517.5pt);}
\end{axis}

% ---------- header, legend, tags (pixel coordinates) ----------
\begin{scope}[x=0.75pt, y=-0.75pt]
\node[anchor=base west, inner sep=0] at (30,14.5) {\arialf\fontsize{9.8}{11}\selectfont\bfseries \$SPX};
\node[anchor=base west, inner sep=0] at (68.3,14.5) {\arialf\fontsize{7.9}{9}\selectfont S\&P 500 Large Cap Index};
\node[anchor=base west, inner sep=0] at (196,14.5) {\arialf\fontsize{7.2}{9}\selectfont INDX};
\node[anchor=base west, inner sep=0] at (30.5,26.7) {\arialf\fontsize{7.9}{9}\selectfont 21-Aug-2014};
\node[anchor=base east, inner sep=0, text={rgb,255:red,90;green,90;blue,90}] at (1197,14.5) {\arialf\fontsize{8}{9}\selectfont \textcopyright\,StockCharts.com};
\node[anchor=base east, inner sep=0] at (1187,27) {\arialf\fontsize{8.3}{9}\selectfont \textbf{Open} 1986.82 \ \textbf{High} 1994.76 \ \textbf{Low} 1986.82 \ \textbf{Close} 1992.37 \ \textbf{Volume} 1.6B \ \textbf{Chg} +5.86 (+0.29\%)};
\fill[gray!55] (1190,25.5) -- (1196,25.5) -- (1193,21.5) -- cycle;
% legend
\draw[black, line width=0.8pt] (35,32) -- (35,38.5) (38,31) -- (38,37.5) (41,32.5) -- (41,38.5) (44,31.5) -- (44,37);
\node[anchor=base west, inner sep=0] at (46.5,38.6) {\monof\fontsize{7.4}{8}\selectfont \$SPX (Daily) 1992.37};
\draw[bpc, line width=1.6pt] (35,46.8) -- (43.5,46.8);
\node[anchor=base west, inner sep=0, text=bpc] at (46.5,50.2) {\fontsize{6.5}{8}\selectfont \$BPSPX 73.00};
% right tags
\filldraw[fill=white, draw=black, line width=0.7pt] (1195,49.2) -- (1200,44) -- (1240,44) -- (1240,54.5) -- (1200,54.5) -- cycle;
\node[inner sep=0] at (1219.5,49.4) {\arialf\fontsize{7.7}{8}\selectfont\bfseries 1992.37};
\filldraw[fill=white, draw=bpc, line width=0.7pt] (1195,131) -- (1199.5,125.5) -- (1228,125.5) -- (1228,136.7) -- (1199.5,136.7) -- cycle;
\node[inner sep=0, text=bpc] at (1213.8,131.2) {\arialf\fontsize{7.8}{8}\selectfont\bfseries 73.00};
\filldraw[fill=white, draw=black!70, line width=0.6pt] (1195,692.6) -- (1199,688.2) -- (1240,688.2) -- (1240,697) -- (1199,697) -- cycle;
\node[inner sep=0] at (1219.8,692.7) {\arialf\fontsize{7.2}{8}\selectfont 1644882};
\end{scope}
\end{tikzpicture}
\end{document}
